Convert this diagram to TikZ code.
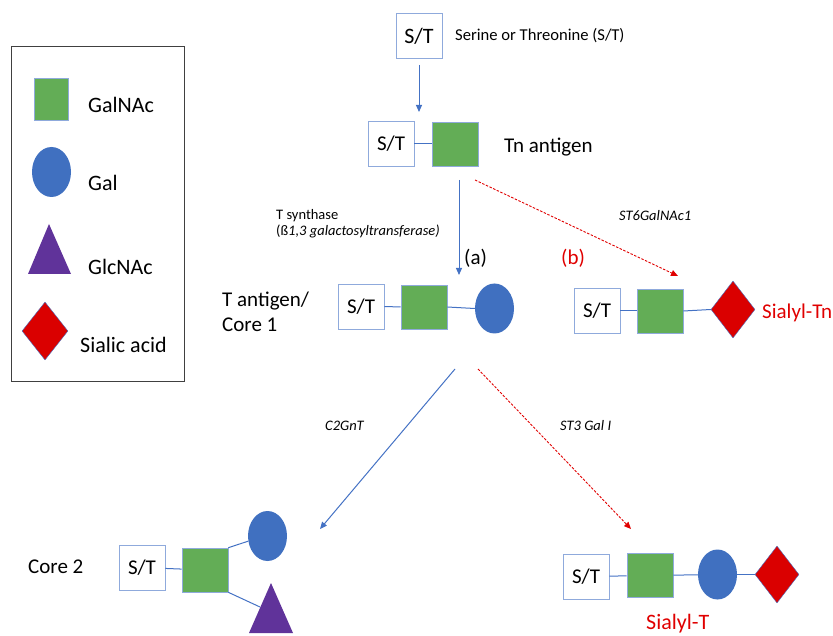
\documentclass[tikz,border=0pt]{standalone}
\usepackage{fontspec}
\setmainfont{Carlito}
\usetikzlibrary{shapes.geometric,arrows.meta}
\definecolor{boxblue}{HTML}{8FAADC}
\definecolor{linkblue}{HTML}{4472C4}
\definecolor{galnacgreen}{HTML}{63AD56}
\definecolor{galblue}{HTML}{4070C0}
\definecolor{glcpurple}{HTML}{60339A}
\definecolor{siared}{HTML}{DA0000}
\definecolor{txtred}{HTML}{E00000}
\definecolor{frame}{HTML}{404040}
\begin{document}
\begin{tikzpicture}[x=1pt,y=-1pt,
  stbox/.style={draw=boxblue, line width=0.8pt, minimum width=46pt, minimum height=45pt, inner sep=0pt, font=\fontsize{21}{24}\selectfont},
  galnac/.style={rectangle, fill=galnacgreen, draw=boxblue, line width=0.6pt, minimum width=46pt, minimum height=44pt, inner sep=0pt},
  galc/.style={ellipse, fill=galblue, minimum width=39pt, minimum height=50pt, inner sep=0pt},
  sia/.style={diamond, fill=siared, draw=linkblue, line width=0.4pt, minimum width=44pt, minimum height=57pt, inner sep=0pt},
  link/.style={draw=linkblue, line width=1pt},
  bluearrow/.style={draw=linkblue, line width=1pt, -{Triangle[length=7pt,width=6pt]}},
  redarrow/.style={draw=txtred, line width=0.9pt, dash pattern=on 2.5pt off 1.5pt, -{Triangle[length=7pt,width=6pt]}},
  big/.style={anchor=base west, inner sep=0pt, font=\fontsize{21}{24}\selectfont},
  leg/.style={anchor=base west, inner sep=0pt, font=\fontsize{22}{26}\selectfont},
  enz/.style={anchor=base west, inner sep=0pt, font=\fontsize{14.5}{17}\selectfont\itshape}
]
\useasboundingbox (0,0) rectangle (833,636);

% legend
\node[draw=frame, line width=0.9pt, minimum width=173pt, minimum height=335pt, inner sep=0pt] (legend) at (97.5,213.5) {};
\node[galnac, minimum width=34pt, minimum height=42pt] (lgalnac) at (51,99) {};
\node[galc] (lgal) at (51.5,172) {};
\path[fill=glcpurple] (49,224) -- (71,274) -- (28,274) -- cycle;
\node[sia, minimum width=46pt, minimum height=58pt] (lsia) at (45,331) {};
\node[leg] (tgalnac) at (88,113) {GalNAc};
\node[leg] (tgal) at (88,191) {Gal};
\node[leg] (tglc) at (88,275) {GlcNAc};
\node[leg] (tsia) at (80,353) {Sialic acid};

% top S/T
\node[stbox, font=\fontsize{22}{24}\selectfont] (st0) at (419,36) {S/T};
\node[anchor=base west, inner sep=0pt, font=\fontsize{16.6}{19}\selectfont] (serlab) at (455,41) {Serine or Threonine (S/T)};
\coordinate (a0end) at (419,112);
\draw[bluearrow] (st0.south) ++(0,6) -- (a0end);

% Tn antigen
\node[stbox] (st1) at (391,144) {S/T};
\node[galnac] (g1) at (455,144) {};
\draw[link] (st1) -- (g1);
\node[big] (tnlab) at (504,153) {Tn antigen};

% arrows from Tn
\coordinate (tnA) at (459,180);
\coordinate (tnAend) at (459,275);
\coordinate (tnB) at (475,180);
\coordinate (tnBend) at (678,276);
\draw[bluearrow] (tnA) -- (tnAend);
\draw[redarrow] (tnB) -- (tnBend);
\node[anchor=base west, inner sep=0pt, font=\fontsize{14.5}{17}\selectfont] (tsyn) at (276,220) {T synthase};
\node[anchor=base west, inner sep=0pt, font=\fontsize{14.5}{17}\selectfont] (tsyn2) at (276,236) {(ß\textit{1,3 galactosyltransferase)}};
\node[big] (alab) at (464,265) {(a)};
\node[big, text=txtred] (blab) at (561,265) {(b)};
\node[enz] (st6) at (619,221) {ST6GalNAc1};

% T antigen / Core 1
\node[big] (tant1) at (222,307) {T antigen/};
\node[big] (tant2) at (222,332) {Core 1};
\node[stbox] (st2) at (361,306.5) {S/T};
\node[galnac] (g2) at (424,307) {};
\node[galc] (gal2) at (494.5,308.5) {};
\draw[link] (st2) -- (g2);
\draw[link] (g2.east) -- (gal2.west);

% Sialyl-Tn
\node[stbox] (st3) at (597,311) {S/T};
\node[galnac] (g3) at (660,311) {};
\node[sia] (sia3) at (733,309.5) {};
\draw[link] (st3) -- (g3);
\draw[link] (g3.east) -- (sia3.west);
\node[big, text=txtred] (stnlab) at (762,319) {Sialyl-Tn};

% arrows from T antigen
\coordinate (tA) at (455,369);
\coordinate (tAend) at (320,529);
\coordinate (tB) at (478,369);
\coordinate (tBend) at (631,529);
\draw[bluearrow] (tA) -- (tAend);
\draw[redarrow] (tB) -- (tBend);
\node[enz] (c2gnt) at (325,430) {C2GnT};
\node[enz] (st3gal) at (560,430) {ST3 Gal I};

% Core 2
\node[big] (core2lab) at (28,573) {Core 2};
\node[stbox] (st4) at (142,567.5) {S/T};
\node[galnac] (g4) at (205,570) {};
\node[galc] (gal4) at (267.5,536) {};
\path[fill=glcpurple] (271,583) -- (293,633) -- (249,633) -- cycle;
\coordinate (tri4) at (260,607);
\draw[link] (st4) -- (g4);
\draw[link] (g4.north east) -- (gal4.195);
\draw[link] (g4.south east) -- (tri4);

% Sialyl-T
\node[stbox] (st5) at (586,576.5) {S/T};
\node[galnac] (g5) at (650,575.5) {};
\node[galc] (gal5) at (717.5,574.5) {};
\node[sia] (sia5) at (777,574.5) {};
\draw[link] (st5) -- (g5);
\draw[link] (g5) -- (gal5);
\draw[link] (gal5) -- (sia5);
\node[anchor=base west, inner sep=0pt, font=\fontsize{22}{26}\selectfont, text=txtred] (stlab) at (646,629) {Sialyl-T};
\end{tikzpicture}
\end{document}
